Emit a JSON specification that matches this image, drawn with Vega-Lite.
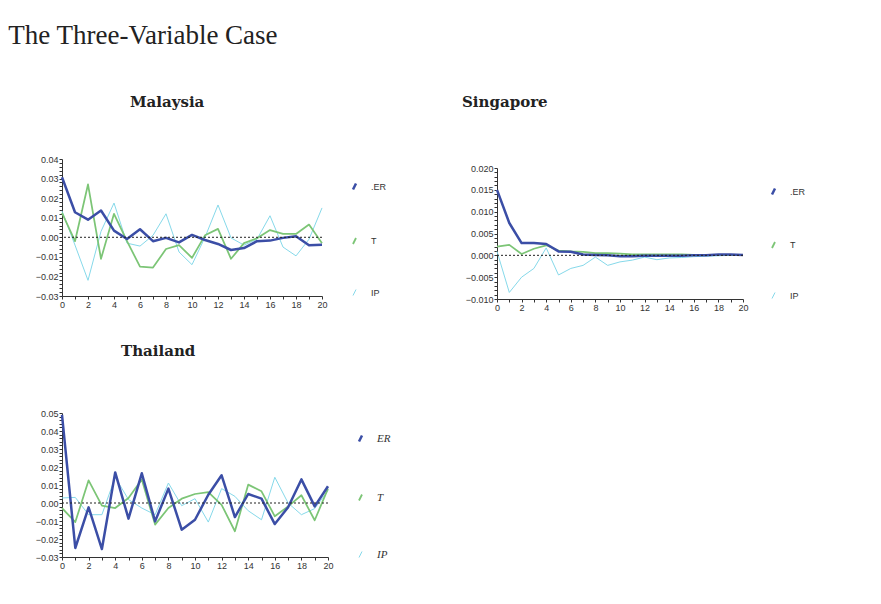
{
  "$schema": "https://vega.github.io/schema/vega-lite/v6.json",
  "background": "white",
  "padding": {"left": 8, "top": 21, "right": 5, "bottom": 5},
  "title": {"text": "The Three-Variable Case", "anchor": "start", "font": "Liberation Serif", "fontSize": 27, "fontWeight": "normal", "color": "#222222", "dx": -27, "offset": 45},
  "datasets": {
    "irf": [
      {"country":"Malaysia","series":"IP","h":0,"v":0.0135},{"country":"Malaysia","series":"IP","h":1,"v":-0.004},{"country":"Malaysia","series":"IP","h":2,"v":-0.022},{"country":"Malaysia","series":"IP","h":3,"v":0.003},{"country":"Malaysia","series":"IP","h":4,"v":0.0175},{"country":"Malaysia","series":"IP","h":5,"v":-0.003},{"country":"Malaysia","series":"IP","h":6,"v":-0.0045},{"country":"Malaysia","series":"IP","h":7,"v":0.001},{"country":"Malaysia","series":"IP","h":8,"v":0.012},{"country":"Malaysia","series":"IP","h":9,"v":-0.0075},{"country":"Malaysia","series":"IP","h":10,"v":-0.014},{"country":"Malaysia","series":"IP","h":11,"v":0.0},{"country":"Malaysia","series":"IP","h":12,"v":0.0165},{"country":"Malaysia","series":"IP","h":13,"v":-0.0003},{"country":"Malaysia","series":"IP","h":14,"v":-0.004},{"country":"Malaysia","series":"IP","h":15,"v":-0.001},{"country":"Malaysia","series":"IP","h":16,"v":0.011},{"country":"Malaysia","series":"IP","h":17,"v":-0.005},{"country":"Malaysia","series":"IP","h":18,"v":-0.0095},{"country":"Malaysia","series":"IP","h":19,"v":-0.001},{"country":"Malaysia","series":"IP","h":20,"v":0.015},
      {"country":"Malaysia","series":"T","h":0,"v":0.0125},{"country":"Malaysia","series":"T","h":1,"v":-0.002},{"country":"Malaysia","series":"T","h":2,"v":0.027},{"country":"Malaysia","series":"T","h":3,"v":-0.011},{"country":"Malaysia","series":"T","h":4,"v":0.012},{"country":"Malaysia","series":"T","h":5,"v":-0.002},{"country":"Malaysia","series":"T","h":6,"v":-0.015},{"country":"Malaysia","series":"T","h":7,"v":-0.0155},{"country":"Malaysia","series":"T","h":8,"v":-0.006},{"country":"Malaysia","series":"T","h":9,"v":-0.004},{"country":"Malaysia","series":"T","h":10,"v":-0.0105},{"country":"Malaysia","series":"T","h":11,"v":0.001},{"country":"Malaysia","series":"T","h":12,"v":0.0043},{"country":"Malaysia","series":"T","h":13,"v":-0.011},{"country":"Malaysia","series":"T","h":14,"v":-0.003},{"country":"Malaysia","series":"T","h":15,"v":-0.0005},{"country":"Malaysia","series":"T","h":16,"v":0.0037},{"country":"Malaysia","series":"T","h":17,"v":0.0017},{"country":"Malaysia","series":"T","h":18,"v":0.0017},{"country":"Malaysia","series":"T","h":19,"v":0.0065},{"country":"Malaysia","series":"T","h":20,"v":-0.003},
      {"country":"Malaysia","series":"ER","h":0,"v":0.0307},{"country":"Malaysia","series":"ER","h":1,"v":0.0128},{"country":"Malaysia","series":"ER","h":2,"v":0.009},{"country":"Malaysia","series":"ER","h":3,"v":0.0137},{"country":"Malaysia","series":"ER","h":4,"v":0.0034},{"country":"Malaysia","series":"ER","h":5,"v":-0.0009},{"country":"Malaysia","series":"ER","h":6,"v":0.0041},{"country":"Malaysia","series":"ER","h":7,"v":-0.002},{"country":"Malaysia","series":"ER","h":8,"v":-0.0003},{"country":"Malaysia","series":"ER","h":9,"v":-0.0026},{"country":"Malaysia","series":"ER","h":10,"v":0.0012},{"country":"Malaysia","series":"ER","h":11,"v":-0.0014},{"country":"Malaysia","series":"ER","h":12,"v":-0.0034},{"country":"Malaysia","series":"ER","h":13,"v":-0.0065},{"country":"Malaysia","series":"ER","h":14,"v":-0.0055},{"country":"Malaysia","series":"ER","h":15,"v":-0.002},{"country":"Malaysia","series":"ER","h":16,"v":-0.0017},{"country":"Malaysia","series":"ER","h":17,"v":-0.0003},{"country":"Malaysia","series":"ER","h":18,"v":0.0005},{"country":"Malaysia","series":"ER","h":19,"v":-0.0041},{"country":"Malaysia","series":"ER","h":20,"v":-0.0038},
      {"country":"Singapore","series":"IP","h":0,"v":0.0009},{"country":"Singapore","series":"IP","h":1,"v":-0.0085},{"country":"Singapore","series":"IP","h":2,"v":-0.005},{"country":"Singapore","series":"IP","h":3,"v":-0.003},{"country":"Singapore","series":"IP","h":4,"v":0.0017},{"country":"Singapore","series":"IP","h":5,"v":-0.0045},{"country":"Singapore","series":"IP","h":6,"v":-0.003},{"country":"Singapore","series":"IP","h":7,"v":-0.0023},{"country":"Singapore","series":"IP","h":8,"v":-0.0004},{"country":"Singapore","series":"IP","h":9,"v":-0.0023},{"country":"Singapore","series":"IP","h":10,"v":-0.0015},{"country":"Singapore","series":"IP","h":11,"v":-0.0011},{"country":"Singapore","series":"IP","h":12,"v":-0.0004},{"country":"Singapore","series":"IP","h":13,"v":-0.001},{"country":"Singapore","series":"IP","h":14,"v":-0.0006},{"country":"Singapore","series":"IP","h":15,"v":-0.0005},{"country":"Singapore","series":"IP","h":16,"v":-0.0003},{"country":"Singapore","series":"IP","h":17,"v":-0.0002},{"country":"Singapore","series":"IP","h":18,"v":-0.0001},{"country":"Singapore","series":"IP","h":19,"v":0.0},{"country":"Singapore","series":"IP","h":20,"v":0.0001},
      {"country":"Singapore","series":"T","h":0,"v":0.002},{"country":"Singapore","series":"T","h":1,"v":0.0024},{"country":"Singapore","series":"T","h":2,"v":0.0003},{"country":"Singapore","series":"T","h":3,"v":0.0015},{"country":"Singapore","series":"T","h":4,"v":0.0023},{"country":"Singapore","series":"T","h":5,"v":0.0011},{"country":"Singapore","series":"T","h":6,"v":0.0009},{"country":"Singapore","series":"T","h":7,"v":0.0008},{"country":"Singapore","series":"T","h":8,"v":0.0005},{"country":"Singapore","series":"T","h":9,"v":0.0005},{"country":"Singapore","series":"T","h":10,"v":0.0004},{"country":"Singapore","series":"T","h":11,"v":0.0002},{"country":"Singapore","series":"T","h":12,"v":0.0002},{"country":"Singapore","series":"T","h":13,"v":0.0002},{"country":"Singapore","series":"T","h":14,"v":0.0002},{"country":"Singapore","series":"T","h":15,"v":0.0002},{"country":"Singapore","series":"T","h":16,"v":0.0001},{"country":"Singapore","series":"T","h":17,"v":0.0001},{"country":"Singapore","series":"T","h":18,"v":0.0001},{"country":"Singapore","series":"T","h":19,"v":0.0001},{"country":"Singapore","series":"T","h":20,"v":0.0001},
      {"country":"Singapore","series":"ER","h":0,"v":0.015},{"country":"Singapore","series":"ER","h":1,"v":0.0074},{"country":"Singapore","series":"ER","h":2,"v":0.0028},{"country":"Singapore","series":"ER","h":3,"v":0.0028},{"country":"Singapore","series":"ER","h":4,"v":0.0026},{"country":"Singapore","series":"ER","h":5,"v":0.0009},{"country":"Singapore","series":"ER","h":6,"v":0.0008},{"country":"Singapore","series":"ER","h":7,"v":0.0002},{"country":"Singapore","series":"ER","h":8,"v":0.0001},{"country":"Singapore","series":"ER","h":9,"v":0.0},{"country":"Singapore","series":"ER","h":10,"v":-0.0002},{"country":"Singapore","series":"ER","h":11,"v":-0.0002},{"country":"Singapore","series":"ER","h":12,"v":-0.0001},{"country":"Singapore","series":"ER","h":13,"v":-0.0001},{"country":"Singapore","series":"ER","h":14,"v":-0.0001},{"country":"Singapore","series":"ER","h":15,"v":-0.0001},{"country":"Singapore","series":"ER","h":16,"v":0.0},{"country":"Singapore","series":"ER","h":17,"v":0.0},{"country":"Singapore","series":"ER","h":18,"v":0.0002},{"country":"Singapore","series":"ER","h":19,"v":0.0002},{"country":"Singapore","series":"ER","h":20,"v":0.0001},
      {"country":"Thailand","series":"IP","h":0,"v":0.0028},{"country":"Thailand","series":"IP","h":1,"v":0.0031},{"country":"Thailand","series":"IP","h":2,"v":-0.0065},{"country":"Thailand","series":"IP","h":3,"v":-0.0065},{"country":"Thailand","series":"IP","h":4,"v":0.0143},{"country":"Thailand","series":"IP","h":5,"v":0.0019},{"country":"Thailand","series":"IP","h":6,"v":-0.0028},{"country":"Thailand","series":"IP","h":7,"v":-0.0065},{"country":"Thailand","series":"IP","h":8,"v":0.0111},{"country":"Thailand","series":"IP","h":9,"v":-0.0015},{"country":"Thailand","series":"IP","h":10,"v":0.0024},{"country":"Thailand","series":"IP","h":11,"v":-0.0106},{"country":"Thailand","series":"IP","h":12,"v":0.008},{"country":"Thailand","series":"IP","h":13,"v":0.0037},{"country":"Thailand","series":"IP","h":14,"v":-0.0043},{"country":"Thailand","series":"IP","h":15,"v":-0.0093},{"country":"Thailand","series":"IP","h":16,"v":0.0143},{"country":"Thailand","series":"IP","h":17,"v":0.0},{"country":"Thailand","series":"IP","h":18,"v":-0.0065},{"country":"Thailand","series":"IP","h":19,"v":-0.0031},{"country":"Thailand","series":"IP","h":20,"v":0.0069},
      {"country":"Thailand","series":"T","h":0,"v":-0.0028},{"country":"Thailand","series":"T","h":1,"v":-0.0106},{"country":"Thailand","series":"T","h":2,"v":0.0126},{"country":"Thailand","series":"T","h":3,"v":-0.0015},{"country":"Thailand","series":"T","h":4,"v":-0.0028},{"country":"Thailand","series":"T","h":5,"v":0.0028},{"country":"Thailand","series":"T","h":6,"v":0.013},{"country":"Thailand","series":"T","h":7,"v":-0.012},{"country":"Thailand","series":"T","h":8,"v":-0.0028},{"country":"Thailand","series":"T","h":9,"v":0.0024},{"country":"Thailand","series":"T","h":10,"v":0.005},{"country":"Thailand","series":"T","h":11,"v":0.006},{"country":"Thailand","series":"T","h":12,"v":-0.001},{"country":"Thailand","series":"T","h":13,"v":-0.0157},{"country":"Thailand","series":"T","h":14,"v":0.0102},{"country":"Thailand","series":"T","h":15,"v":0.0065},{"country":"Thailand","series":"T","h":16,"v":-0.0074},{"country":"Thailand","series":"T","h":17,"v":-0.0019},{"country":"Thailand","series":"T","h":18,"v":0.0043},{"country":"Thailand","series":"T","h":19,"v":-0.0096},{"country":"Thailand","series":"T","h":20,"v":0.008},
      {"country":"Thailand","series":"ER","h":0,"v":0.049},{"country":"Thailand","series":"ER","h":1,"v":-0.025},{"country":"Thailand","series":"ER","h":2,"v":-0.0024},{"country":"Thailand","series":"ER","h":3,"v":-0.0256},{"country":"Thailand","series":"ER","h":4,"v":0.017},{"country":"Thailand","series":"ER","h":5,"v":-0.0087},{"country":"Thailand","series":"ER","h":6,"v":0.0165},{"country":"Thailand","series":"ER","h":7,"v":-0.0102},{"country":"Thailand","series":"ER","h":8,"v":0.008},{"country":"Thailand","series":"ER","h":9,"v":-0.0148},{"country":"Thailand","series":"ER","h":10,"v":-0.0093},{"country":"Thailand","series":"ER","h":11,"v":0.0046},{"country":"Thailand","series":"ER","h":12,"v":0.0154},{"country":"Thailand","series":"ER","h":13,"v":-0.0078},{"country":"Thailand","series":"ER","h":14,"v":0.005},{"country":"Thailand","series":"ER","h":15,"v":0.0024},{"country":"Thailand","series":"ER","h":16,"v":-0.0117},{"country":"Thailand","series":"ER","h":17,"v":-0.0024},{"country":"Thailand","series":"ER","h":18,"v":0.0131},{"country":"Thailand","series":"ER","h":19,"v":-0.0019},{"country":"Thailand","series":"ER","h":20,"v":0.0093}
    ],
    "zero": [{"v": 0}]
  },
  "spacing": 32,
  "resolve": {"scale": {"color": "independent", "strokeWidth": "independent", "x": "independent", "y": "independent"}, "legend": {"color": "independent"}},
  "vconcat": [
    {
      "spacing": 75,
      "resolve": {"scale": {"color": "independent", "strokeWidth": "independent", "x": "independent", "y": "independent"}, "legend": {"color": "independent"}},
      "hconcat": [
        {
          "title": {"text": "Malaysia", "anchor": "start", "frame": "group", "dx": 68, "offset": 45},
          "width": 260, "height": 137,
          "layer": [
            {
              "data": {"name": "irf"},
              "transform": [{"filter": "datum.country === 'Malaysia'"}],
              "mark": {"type": "line", "strokeJoin": "round"},
              "encoding": {
                "x": {"field": "h", "type": "quantitative", "scale": {"domain": [0, 20], "nice": false}, "axis": {"tickCount": 200, "values": [0,1,2,3,4,5,6,7,8,9,10,11,12,13,14,15,16,17,18,19,20], "labelExpr": "datum.value % 2 === 0 ? format(datum.value, 'd') : ''"}},
                "y": {"field": "v", "type": "quantitative", "scale": {"domain": [-0.03, 0.04], "nice": false, "zero": false}, "axis": {"tickCount": 200, "values": [-0.03,-0.028,-0.026,-0.024,-0.022,-0.02,-0.018,-0.016,-0.014,-0.012,-0.01,-0.008,-0.006,-0.004,-0.002,0,0.002,0.004,0.006,0.008,0.01,0.012,0.014,0.016,0.018,0.02,0.022,0.024,0.026,0.028,0.03,0.032,0.034,0.036,0.038,0.04], "labelExpr": "abs(datum.value*100 - round(datum.value*100)) < 0.001 ? format(datum.value, '.2f') : ''"}},
                "color": {"field": "series", "type": "nominal", "scale": {"domain": ["ER", "T", "IP"], "range": ["#3b4ea6", "#7cc576", "#86d9ea"]}, "legend": {"orient": "none", "legendX": 286, "legendY": 21, "rowPadding": 39, "labelExpr": "datum.label === 'ER' ? '.ER' : datum.label", "encode": {"symbols": {"update": {"strokeWidth": {"signal": "datum.value === 'ER' ? 2 : 1"}}}}}},
                "strokeWidth": {"field": "series", "type": "nominal", "scale": {"domain": ["ER", "T", "IP"], "range": [2.5, 1, 1]}, "legend": null}
              }
            },
            {"data": {"name": "zero"}, "mark": {"type": "rule", "strokeDash": [2, 2], "color": "#222222", "strokeWidth": 1}, "encoding": {"y": {"field": "v", "type": "quantitative"}}}
          ]
        },
        {
          "title": {"text": "Singapore", "anchor": "start", "frame": "group", "dx": -35, "offset": 49.5},
          "width": 246, "height": 140,
          "layer": [
            {
              "data": {"name": "irf"},
              "transform": [{"filter": "datum.country === 'Singapore'"}],
              "mark": {"type": "line", "strokeJoin": "round"},
              "encoding": {
                "x": {"field": "h", "type": "quantitative", "scale": {"domain": [0, 20], "nice": false}, "axis": {"tickCount": 200, "values": [0,1,2,3,4,5,6,7,8,9,10,11,12,13,14,15,16,17,18,19,20], "labelExpr": "datum.value % 2 === 0 ? format(datum.value, 'd') : ''"}},
                "y": {"field": "v", "type": "quantitative", "scale": {"domain": [-0.01, 0.02], "nice": false, "zero": false, "range": [140, 9]}, "axis": {"tickCount": 200, "values": [-0.01,-0.009,-0.008,-0.007,-0.006,-0.005,-0.004,-0.003,-0.002,-0.001,0,0.001,0.002,0.003,0.004,0.005,0.006,0.007,0.008,0.009,0.01,0.011,0.012,0.013,0.014,0.015,0.016,0.017,0.018,0.019,0.02], "labelExpr": "abs(datum.value*200 - round(datum.value*200)) < 0.001 ? format(datum.value, '.3f') : ''"}},
                "color": {"field": "series", "type": "nominal", "scale": {"domain": ["ER", "T", "IP"], "range": ["#3b4ea6", "#7cc576", "#86d9ea"]}, "legend": {"orient": "none", "legendX": 270, "legendY": 26, "rowPadding": 38, "labelExpr": "datum.label === 'ER' ? '.ER' : datum.label", "encode": {"symbols": {"update": {"strokeWidth": {"signal": "datum.value === 'ER' ? 2 : 1"}}}}}},
                "strokeWidth": {"field": "series", "type": "nominal", "scale": {"domain": ["ER", "T", "IP"], "range": [2.5, 1, 1]}, "legend": null}
              }
            },
            {"data": {"name": "zero"}, "mark": {"type": "rule", "strokeDash": [2, 2], "color": "#222222", "strokeWidth": 1}, "encoding": {"y": {"field": "v", "type": "quantitative"}}}
          ]
        }
      ]
    },
    {
      "title": {"text": "Thailand", "anchor": "start", "frame": "group", "dx": 59, "offset": 50},
      "width": 266, "height": 144,
      "layer": [
        {
          "data": {"name": "irf"},
          "transform": [{"filter": "datum.country === 'Thailand'"}],
          "mark": {"type": "line", "strokeJoin": "round"},
          "encoding": {
            "x": {"field": "h", "type": "quantitative", "scale": {"domain": [0, 20], "nice": false}, "axis": {"tickCount": 200, "values": [0,1,2,3,4,5,6,7,8,9,10,11,12,13,14,15,16,17,18,19,20], "labelExpr": "datum.value % 2 === 0 ? format(datum.value, 'd') : ''"}},
            "y": {"field": "v", "type": "quantitative", "scale": {"domain": [-0.03, 0.05], "nice": false, "zero": false}, "axis": {"tickCount": 200, "values": [-0.03,-0.028,-0.026,-0.024,-0.022,-0.02,-0.018,-0.016,-0.014,-0.012,-0.01,-0.008,-0.006,-0.004,-0.002,0,0.002,0.004,0.006,0.008,0.01,0.012,0.014,0.016,0.018,0.02,0.022,0.024,0.026,0.028,0.03,0.032,0.034,0.036,0.038,0.04,0.042,0.044,0.046,0.048,0.05], "labelExpr": "abs(datum.value*100 - round(datum.value*100)) < 0.001 ? format(datum.value, '.2f') : ''"}},
            "color": {"field": "series", "type": "nominal", "scale": {"domain": ["ER", "T", "IP"], "range": ["#3b4ea6", "#7cc576", "#86d9ea"]}, "legend": {"orient": "none", "legendX": 292, "legendY": 19, "rowPadding": 43.5, "labelFont": "Liberation Serif", "labelFontStyle": "italic", "labelFontSize": 11, "encode": {"symbols": {"update": {"strokeWidth": {"signal": "datum.value === 'ER' ? 2 : 1"}}}}}},
            "strokeWidth": {"field": "series", "type": "nominal", "scale": {"domain": ["ER", "T", "IP"], "range": [2.5, 1, 1]}, "legend": null}
          }
        },
        {"data": {"name": "zero"}, "mark": {"type": "rule", "strokeDash": [2, 2], "color": "#222222", "strokeWidth": 1}, "encoding": {"y": {"field": "v", "type": "quantitative"}}}
      ]
    }
  ],
  "config": {
    "view": {"stroke": null},
    "title": {"font": "DejaVu Serif", "fontSize": 15, "fontWeight": "bold", "color": "#222222"},
    "axis": {"title": null, "grid": false, "domainColor": "#333333", "tickColor": "#333333", "tickSize": 3, "labelFont": "Liberation Sans", "labelFontSize": 9, "labelColor": "#333333", "labelPadding": 1, "labelOverlap": false, "labelBound": false, "labelFlush": false},
    "legend": {"title": null, "symbolType": "M-0.3,0.6L0.3,-0.6", "symbolSize": 100, "symbolStrokeWidth": 1.3, "labelFont": "Liberation Sans", "labelFontSize": 9, "labelColor": "#333333", "labelOffset": 10, "padding": 0}
  }
}
